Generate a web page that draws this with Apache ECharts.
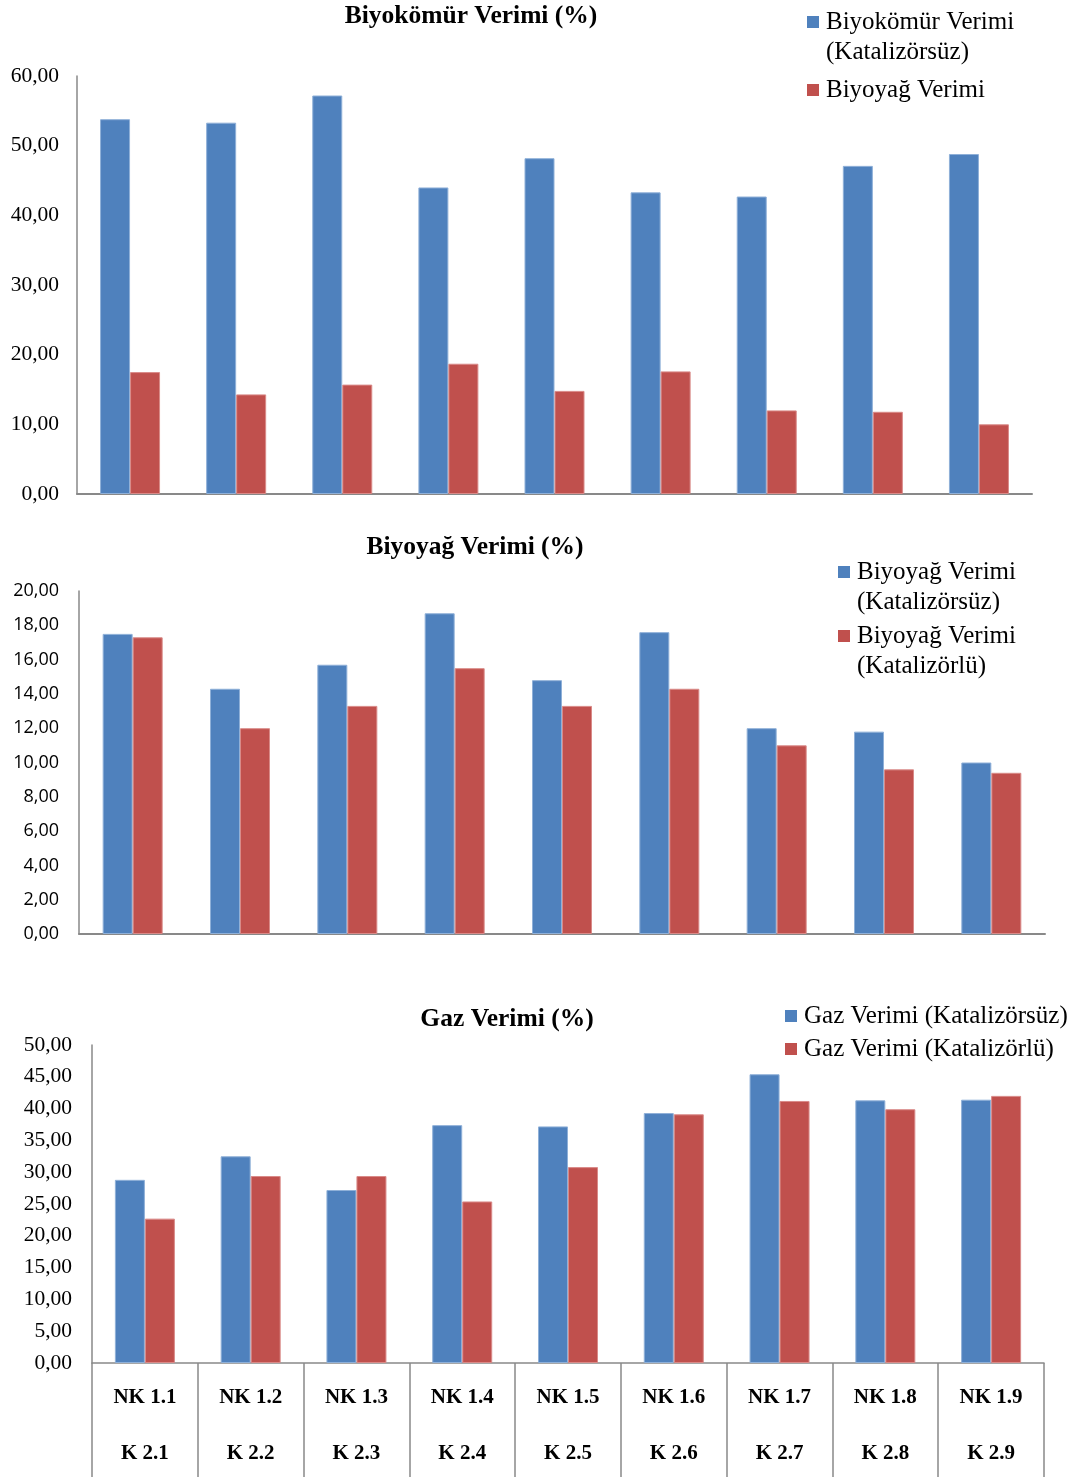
<!DOCTYPE html>
<html>
<head>
<meta charset="utf-8">
<script src="https://cdn.jsdelivr.net/npm/echarts@6/dist/echarts.min.js"></script>
<style>
  html, body { margin: 0; padding: 0; background: #fff; }
  #chart { width: 1075px; height: 1477px; }
</style>
</head>
<body>
<div id="chart"></div>
<script>
// Sample codes (non-catalytic / catalytic runs)
const nkLabels = ['NK 1.1', 'NK 1.2', 'NK 1.3', 'NK 1.4', 'NK 1.5', 'NK 1.6', 'NK 1.7', 'NK 1.8', 'NK 1.9'];
const kLabels  = ['K 2.1', 'K 2.2', 'K 2.3', 'K 2.4', 'K 2.5', 'K 2.6', 'K 2.7', 'K 2.8', 'K 2.9'];

// Yields (%)
const biocharNoCat = [53.8, 53.3, 57.2, 44.0, 48.2, 43.3, 42.7, 47.1, 48.8];
const bioOilNoCat  = [17.5, 14.3, 15.7, 18.7, 14.8, 17.6, 12.0, 11.8, 10.0];
const bioOilCat    = [17.3, 12.0, 13.3, 15.5, 13.3, 14.3, 11.0, 9.6, 9.4];
const gasNoCat     = [28.8, 32.5, 27.2, 37.4, 37.2, 39.3, 45.4, 41.3, 41.4];
const gasCat       = [22.7, 29.4, 29.4, 25.4, 30.8, 39.1, 41.2, 39.9, 42.0];

// Value axis ranges: [max, interval]
const axis1 = [60, 10];
const axis2 = [20, 2];
const axis3 = [50, 5];

const categories = nkLabels.map((nk, i) => nk + '\n' + kLabels[i]);

const BLUE = '#4F81BD';
const RED = '#C0504D';
const AXIS = '#898989';
const SERIF = '"Liberation Serif", "Times New Roman", serif';
const SANS = '"Open Sans", "Liberation Sans", sans-serif';

const fmt = v => v.toFixed(2).replace('.', ',');

function valueAxis(gridIndex, range, font, size, margin) {
  return {
    type: 'value', gridIndex, min: 0, max: range[0], interval: range[1],
    axisLine: { show: true, lineStyle: { color: AXIS, width: 1.5 } },
    axisTick: { show: false },
    splitLine: { show: false },
    axisLabel: { formatter: fmt, fontFamily: font, fontSize: size, color: '#000', margin }
  };
}

function barSeries(name, data, color, border, idx) {
  return {
    name, type: 'bar', data, xAxisIndex: idx, yAxisIndex: idx,
    barWidth: 30, barGap: '0%',
    itemStyle: { color, borderColor: border, borderWidth: 1 },
    emphasis: { disabled: true }
  };
}

// Legend items; two-line names get a leading blank line so the marker sits on the first line
const LEG_FS = 25, LEG_LH = 30;
function legendItem(name, lines, left, firstLineCenter) {
  const twoLines = lines.length > 1;
  const text = twoLines ? '\n' + lines.join('\n') : lines[0];
  const iconCenter = twoLines ? LEG_LH * 1.5 : LEG_LH / 2;
  return {
    data: [name], left, top: firstLineCenter - iconCenter, padding: 0,
    icon: 'rect', itemWidth: 12, itemHeight: 12,
    itemStyle: { borderWidth: 0 },
    formatter: () => text,
    textStyle: { fontFamily: SERIF, fontSize: LEG_FS, lineHeight: LEG_LH, color: '#000', padding: [0, 0, 0, 2] }
  };
}

const titleStyle = { fontFamily: SERIF, fontSize: 25.5, fontWeight: 'bold', color: '#000' };

const chart = echarts.init(document.getElementById('chart'), null, { renderer: 'canvas' });
chart.setOption({
  animation: false,
  backgroundColor: '#fff',
  title: [
    { text: 'Biyokömür Verimi (%)', left: 471, top: 3, textAlign: 'center', padding: 0, textStyle: titleStyle },
    { text: 'Biyoyağ Verimi (%)', left: 475, top: 534, textAlign: 'center', padding: 0, textStyle: titleStyle },
    { text: 'Gaz Verimi (%)', left: 507, top: 1006, textAlign: 'center', padding: 0, textStyle: titleStyle }
  ],
  legend: [
    legendItem('Biyokömür Verimi (Katalizörsüz)', ['Biyokömür Verimi', '(Katalizörsüz)'], 807, 22),
    legendItem('Biyoyağ Verimi', ['Biyoyağ Verimi'], 807, 90),
    legendItem('Biyoyağ Verimi (Katalizörsüz)', ['Biyoyağ Verimi', '(Katalizörsüz)'], 838, 572),
    legendItem('Biyoyağ Verimi (Katalizörlü)', ['Biyoyağ Verimi', '(Katalizörlü)'], 838, 636),
    legendItem('Gaz Verimi (Katalizörsüz)', ['Gaz Verimi (Katalizörsüz)'], 785, 1016),
    legendItem('Gaz Verimi (Katalizörlü)', ['Gaz Verimi (Katalizörlü)'], 785, 1049)
  ],
  grid: [
    { left: 77, top: 76, width: 955, height: 418, outerBoundsMode: 'none' },
    { left: 79, top: 591, width: 966, height: 343, outerBoundsMode: 'none' },
    { left: 92, top: 1045, width: 952, height: 318, outerBoundsMode: 'none' }
  ],
  xAxis: [
    { type: 'category', gridIndex: 0, data: categories,
      axisLine: { lineStyle: { color: AXIS, width: 2 } }, axisTick: { show: false }, axisLabel: { show: false } },
    { type: 'category', gridIndex: 1, data: categories,
      axisLine: { lineStyle: { color: AXIS, width: 2 } }, axisTick: { show: false }, axisLabel: { show: false } },
    { type: 'category', gridIndex: 2, data: categories,
      axisLine: { lineStyle: { color: AXIS, width: 1.5 } },
      axisTick: { show: true, interval: 0, alignWithLabel: false, length: 116, lineStyle: { color: AXIS, width: 1.5 } },
      axisLabel: { interval: 0, margin: 7, fontFamily: SERIF, fontSize: 21, fontWeight: 'bold', color: '#000', lineHeight: 56 } }
  ],
  yAxis: [
    valueAxis(0, axis1, SERIF, 21.5, 18),
    valueAxis(1, axis2, SANS, 18, 20),
    valueAxis(2, axis3, SERIF, 21.5, 20)
  ],
  series: [
    barSeries('Biyokömür Verimi (Katalizörsüz)', biocharNoCat, BLUE, '#8fb0d8', 0),
    barSeries('Biyoyağ Verimi', bioOilNoCat, RED, '#d98a88', 0),
    barSeries('Biyoyağ Verimi (Katalizörsüz)', bioOilNoCat, BLUE, '#8fb0d8', 1),
    barSeries('Biyoyağ Verimi (Katalizörlü)', bioOilCat, RED, '#d98a88', 1),
    barSeries('Gaz Verimi (Katalizörsüz)', gasNoCat, BLUE, '#8fb0d8', 2),
    barSeries('Gaz Verimi (Katalizörlü)', gasCat, RED, '#d98a88', 2)
  ]
});
</script>
</body>
</html>
